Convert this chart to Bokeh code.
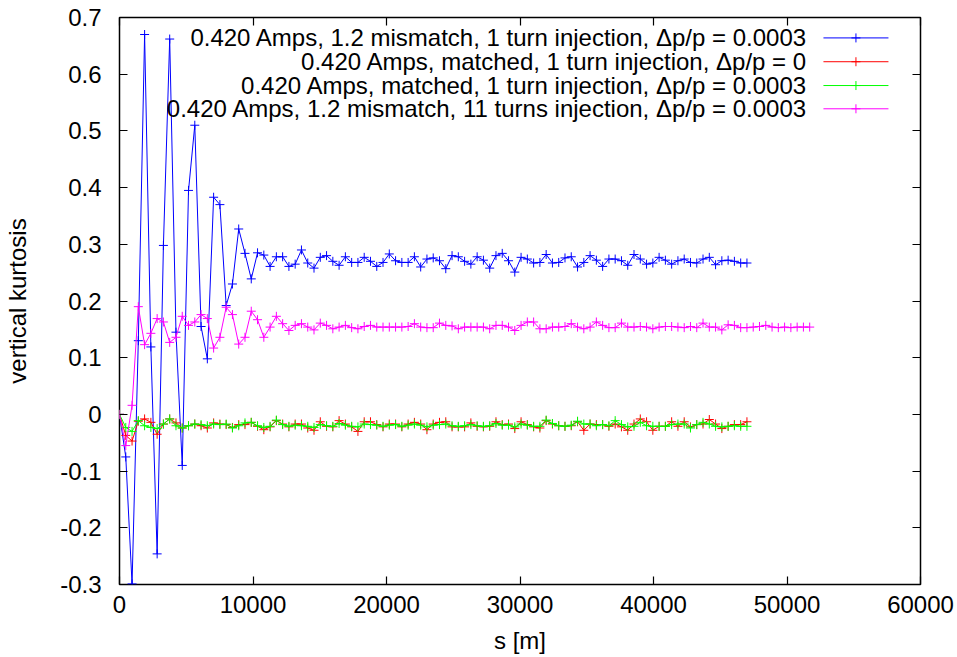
from bokeh.plotting import figure
from bokeh.models import Range1d, FixedTicker, LinearAxis, CustomJSTickFormatter
from bokeh.core.properties import value
from bokeh.embed import file_html
from bokeh.resources import INLINE

# ---------------- data ----------------
S_STEP = 470  # sampling step along s [m]

blue = [
    0.000, -0.075, -0.299, 0.130, 0.670, 0.119, -0.246, 0.298, 0.662, 0.145,
    -0.090, 0.395, 0.510, 0.155, 0.098, 0.383, 0.370, 0.192, 0.230, 0.327,
    0.284, 0.239, 0.285, 0.281, 0.261, 0.278, 0.278, 0.261, 0.265, 0.290,
    0.267, 0.258, 0.277, 0.280, 0.270, 0.263, 0.278, 0.268, 0.268, 0.277,
    0.270, 0.261, 0.268, 0.283, 0.271, 0.268, 0.268, 0.278, 0.260, 0.274,
    0.276, 0.271, 0.257, 0.280, 0.278, 0.270, 0.265, 0.278, 0.272, 0.258,
    0.280, 0.284, 0.271, 0.251, 0.277, 0.274, 0.267, 0.268, 0.282, 0.267,
    0.268, 0.276, 0.278, 0.260, 0.268, 0.280, 0.272, 0.261, 0.274, 0.274,
    0.271, 0.263, 0.282, 0.274, 0.265, 0.267, 0.277, 0.272, 0.265, 0.271,
    0.274, 0.268, 0.267, 0.274, 0.277, 0.264, 0.271, 0.272, 0.270, 0.267,
    0.267,
]

red = [
    0.000, -0.037, -0.047, -0.012, -0.008, -0.014, -0.035, -0.017, -0.008, -0.015,
    -0.024, -0.020, -0.017, -0.020, -0.024, -0.015, -0.017, -0.018, -0.023, -0.018,
    -0.018, -0.014, -0.021, -0.027, -0.022, -0.011, -0.017, -0.022, -0.017, -0.017,
    -0.024, -0.028, -0.013, -0.021, -0.022, -0.011, -0.017, -0.022, -0.030, -0.013,
    -0.013, -0.018, -0.022, -0.017, -0.017, -0.022, -0.017, -0.014, -0.017, -0.027,
    -0.017, -0.014, -0.013, -0.022, -0.022, -0.022, -0.015, -0.021, -0.022, -0.021,
    -0.013, -0.018, -0.017, -0.025, -0.013, -0.018, -0.022, -0.024, -0.011, -0.017,
    -0.020, -0.021, -0.020, -0.013, -0.028, -0.017, -0.018, -0.018, -0.021, -0.017,
    -0.022, -0.028, -0.017, -0.008, -0.013, -0.028, -0.021, -0.021, -0.013, -0.021,
    -0.013, -0.022, -0.018, -0.017, -0.009, -0.017, -0.025, -0.021, -0.018, -0.018,
    -0.013,
]

green = [
    0.000, -0.023, -0.030, -0.011, -0.020, -0.023, -0.025, -0.017, -0.008, -0.020,
    -0.024, -0.020, -0.017, -0.018, -0.020, -0.017, -0.018, -0.017, -0.024, -0.020,
    -0.015, -0.014, -0.020, -0.023, -0.021, -0.010, -0.018, -0.021, -0.019, -0.020,
    -0.021, -0.023, -0.018, -0.020, -0.021, -0.016, -0.019, -0.021, -0.022, -0.017,
    -0.018, -0.019, -0.021, -0.019, -0.018, -0.021, -0.019, -0.017, -0.019, -0.022,
    -0.019, -0.018, -0.017, -0.020, -0.021, -0.020, -0.018, -0.020, -0.021, -0.020,
    -0.016, -0.019, -0.019, -0.022, -0.017, -0.019, -0.021, -0.021, -0.010, -0.016,
    -0.020, -0.021, -0.019, -0.012, -0.017, -0.017, -0.020, -0.018, -0.020, -0.011,
    -0.018, -0.022, -0.021, -0.014, -0.020, -0.021, -0.021, -0.021, -0.018, -0.017,
    -0.017, -0.024, -0.018, -0.014, -0.017, -0.021, -0.022, -0.021, -0.020, -0.021,
    -0.021,
]

magenta = [
    0.000, -0.055, 0.016, 0.190, 0.123, 0.143, 0.169, 0.163, 0.127, 0.136,
    0.173, 0.157, 0.163, 0.176, 0.169, 0.117, 0.136, 0.189, 0.176, 0.124,
    0.136, 0.182, 0.167, 0.136, 0.154, 0.173, 0.160, 0.148, 0.157, 0.160,
    0.154, 0.149, 0.161, 0.157, 0.151, 0.154, 0.157, 0.153, 0.151, 0.155,
    0.157, 0.154, 0.154, 0.154, 0.154, 0.154, 0.155, 0.160, 0.154, 0.153,
    0.153, 0.161, 0.157, 0.156, 0.151, 0.154, 0.154, 0.154, 0.154, 0.151,
    0.157, 0.157, 0.154, 0.148, 0.157, 0.163, 0.163, 0.151, 0.151, 0.154,
    0.154, 0.155, 0.160, 0.154, 0.151, 0.154, 0.163, 0.157, 0.153, 0.153,
    0.161, 0.154, 0.154, 0.155, 0.154, 0.151, 0.154, 0.155, 0.155, 0.154,
    0.153, 0.155, 0.153, 0.161, 0.154, 0.154, 0.149, 0.158, 0.157, 0.153,
    0.153, 0.154, 0.155, 0.157, 0.154, 0.153, 0.154, 0.153, 0.154, 0.154,
    0.154,
]

series_labels = [
    "0.420 Amps, 1.2 mismatch, 1 turn injection, \u0394p/p = 0.0003",
    "0.420 Amps, matched, 1 turn injection, \u0394p/p = 0",
    "0.420 Amps, matched, 1 turn injection, \u0394p/p = 0.0003",
    "0.420 Amps, 1.2 mismatch, 11 turns injection, \u0394p/p = 0.0003",
]
series_values = [blue, red, green, magenta]
series_colors = ["#0000ff", "#ff0000", "#00ff00", "#ff00ff"]

x_ticks = [0, 10000, 20000, 30000, 40000, 50000, 60000]
y_ticks = [-0.3, -0.2, -0.1, 0.0, 0.1, 0.2, 0.3, 0.4, 0.5, 0.6, 0.7]

x_label = "s [m]"
y_label = "vertical kurtosis"

# ---------------- layout / style ----------------
FONT = "Liberation Sans"
FS = "24px"

p = figure(
    width=957, height=657,
    x_range=Range1d(0, 60000), y_range=Range1d(-0.3, 0.7),
    output_backend="svg", toolbar_location=None,
    min_border_left=119, min_border_right=37,
    min_border_top=17, min_border_bottom=73,
    background_fill_color="white", border_fill_color="white",
)
p.xgrid.visible = False
p.ygrid.visible = False
p.outline_line_color = "black"
p.outline_line_width = 1.5
p.outline_line_alpha = 1.0

xfmt = CustomJSTickFormatter(code="return tick.toFixed(0);")
yfmt = CustomJSTickFormatter(code="return Math.abs(tick) < 1e-9 ? '0' : tick.toFixed(1);")

for ax, ticks, fmt in ((p.xaxis[0], x_ticks, xfmt), (p.yaxis[0], y_ticks, yfmt)):
    ax.ticker = FixedTicker(ticks=ticks, minor_ticks=[])
    ax.formatter = fmt
    ax.major_tick_in = 8
    ax.major_tick_out = 0
    ax.minor_tick_line_color = None
    ax.major_tick_line_color = "black"
    ax.major_tick_line_width = 1.2
    ax.axis_line_color = None
    ax.major_label_text_font = FONT
    ax.major_label_text_font_size = FS
    ax.major_label_text_color = "black"
    ax.axis_label_text_font = FONT
    ax.axis_label_text_font_size = FS
    ax.axis_label_text_font_style = "normal"
    ax.axis_label_text_color = "black"

p.xaxis[0].axis_label = x_label
p.xaxis[0].major_label_standoff = 11
p.xaxis[0].axis_label_standoff = 11
p.yaxis[0].axis_label = y_label
p.yaxis[0].major_label_standoff = 18
p.yaxis[0].axis_label_standoff = 26

# mirrored ticks (top and right), no labels
blank = CustomJSTickFormatter(code="return '';")
top = LinearAxis(ticker=FixedTicker(ticks=x_ticks, minor_ticks=[]), formatter=blank)
right = LinearAxis(ticker=FixedTicker(ticks=y_ticks, minor_ticks=[]), formatter=blank)
for ax in (top, right):
    ax.major_tick_in = 8
    ax.major_tick_out = 0
    ax.minor_tick_line_color = None
    ax.major_tick_line_color = "black"
    ax.major_tick_line_width = 1.2
    ax.axis_line_color = None
    ax.major_label_text_color = None
    ax.major_label_standoff = 0
p.add_layout(top, "above")
p.add_layout(right, "right")

# ---------------- series ----------------
for vals, col in zip(series_values, series_colors):
    s = [i * S_STEP for i in range(len(vals))]
    p.line(s, vals, line_color=col, line_width=1)
    p.scatter(s, vals, marker="cross", size=9, line_color=col, line_width=1)

# ---------------- key (gnuplot style: text then sample) ----------------
KEY_TEXT_X = 51530
KEY_LINE_X0 = 52730
KEY_LINE_X1 = 57600
KEY_Y = [0.664, 0.622, 0.580, 0.539]

p.text(x=[KEY_TEXT_X] * 4, y=KEY_Y, text=series_labels,
       text_align="right", text_baseline="middle",
       text_font=value(FONT), text_font_size=FS, text_color="black")
p.segment(x0=[KEY_LINE_X0] * 4, y0=KEY_Y, x1=[KEY_LINE_X1] * 4, y1=KEY_Y,
          line_color=series_colors, line_width=1)
p.scatter(x=[(KEY_LINE_X0 + KEY_LINE_X1) / 2] * 4, y=KEY_Y, marker="cross",
          size=9, line_color=series_colors, line_width=1)

open("out.html", "w").write(file_html(p, INLINE))
